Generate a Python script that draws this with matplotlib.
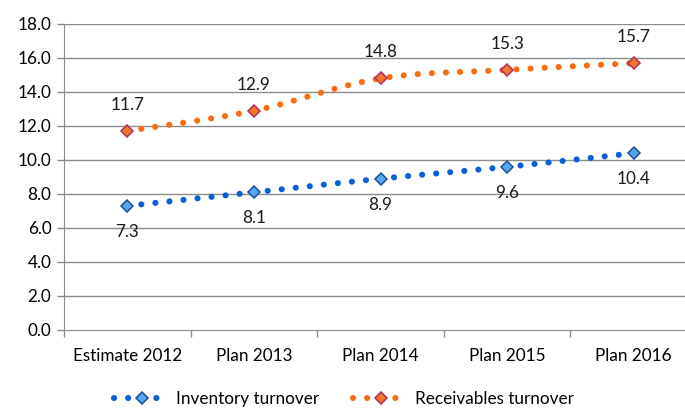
import numpy as np
import matplotlib
matplotlib.use("Agg")
import matplotlib.pyplot as plt
from matplotlib.lines import Line2D

categories = ["Estimate 2012", "Plan 2013", "Plan 2014", "Plan 2015", "Plan 2016"]
inventory = [7.3, 8.1, 8.9, 9.6, 10.4]
receivables = [11.7, 12.9, 14.8, 15.3, 15.7]
series_names = ["Inventory turnover", "Receivables turnover"]

plt.rcParams['font.family'] = ['Lato', 'DejaVu Sans']
FS = 12.3

fig = plt.figure(figsize=(6.85, 4.08), dpi=100)
ax = fig.add_axes([64/685, 78/408, 633/685, 306/408])

def smooth(x, y, n=30):
    # Catmull-Rom rendering of the line (drawing only)
    x = np.asarray(x, float); y = np.asarray(y, float)
    P = np.column_stack([x, y])
    P = np.vstack([P[0] - (P[1] - P[0]), P, P[-1] + (P[-1] - P[-2])])
    out = []
    for i in range(1, len(P) - 2):
        p0, p1, p2, p3 = P[i-1], P[i], P[i+1], P[i+2]
        t = np.linspace(0, 1, n, endpoint=(i == len(P) - 3))[:, None]
        pts = 0.5 * ((2*p1) + (-p0 + p2)*t + (2*p0 - 5*p1 + 4*p2 - p3)*t**2 + (-p0 + 3*p1 - 3*p2 + p3)*t**3)
        out.append(pts)
    out = np.vstack(out)
    return out[:, 0], out[:, 1]

xs = np.arange(len(categories))
grid_c = '#8c8c8c'
for v in np.arange(2, 19, 2):
    ax.axhline(v, color=grid_c, lw=1.0, zorder=0)

LW = 4.4
DASH = (0, (0.01, 2.3))
styles = [
    dict(data=inventory, line='#0a5fd6', face='#5aa6ec', edge='#1c4f9a', off=-26),
    dict(data=receivables, line='#f96d10', face='#f07828', edge='#b02f68', off=26),
]
handles = []
for s, name in zip(styles, series_names):
    sx, sy = smooth(xs, s['data'])
    ax.plot(sx, sy, color=s['line'], lw=LW, linestyle=DASH,
            dash_capstyle='round', zorder=2)
    ax.plot(xs, s['data'], linestyle='none', marker='D', ms=6.3,
            mfc=s['face'], mec=s['edge'], mew=1.1, zorder=3)
    for xi, v in zip(xs, s['data']):
        ax.annotate(f"{v:.1f}", (xi, v), xytext=(0, s['off']), textcoords='offset pixels',
                    ha='center', va='center', fontsize=FS, color='#1a1a1a')
    handles.append(Line2D([0], [0], color=s['line'], lw=LW, linestyle=DASH,
                          dash_capstyle='round', marker='D', ms=6.3, mfc=s['face'],
                          mec=s['edge'], mew=1.1))

ax.set_xlim(-0.5, len(categories) - 0.5)
ax.set_ylim(0, 18)
ax.set_yticks(np.arange(0, 19, 2))
ax.set_yticklabels([f"{v:.1f}" for v in np.arange(0, 19, 2)], fontsize=FS)
ax.set_xticks(xs)
ax.set_xticklabels(categories, fontsize=FS)
ax.set_xticks(np.arange(-0.5, len(categories), 1), minor=True)
ax.tick_params(axis='x', which='major', length=0, pad=13)
ax.tick_params(axis='x', which='minor', length=5, color=grid_c, width=1)
ax.tick_params(axis='y', length=5, color=grid_c, width=1, pad=4)
for side in ['top', 'right']:
    ax.spines[side].set_visible(False)
ax.spines['left'].set_color(grid_c)
ax.spines['bottom'].set_color(grid_c)

fig.legend(handles, series_names, loc='center', bbox_to_anchor=(344/685, 9/408),
           ncol=2, frameon=False, fontsize=FS, handlelength=3.2, columnspacing=2.0,
           handletextpad=0.4)

fig.savefig("out.png", dpi=100)
